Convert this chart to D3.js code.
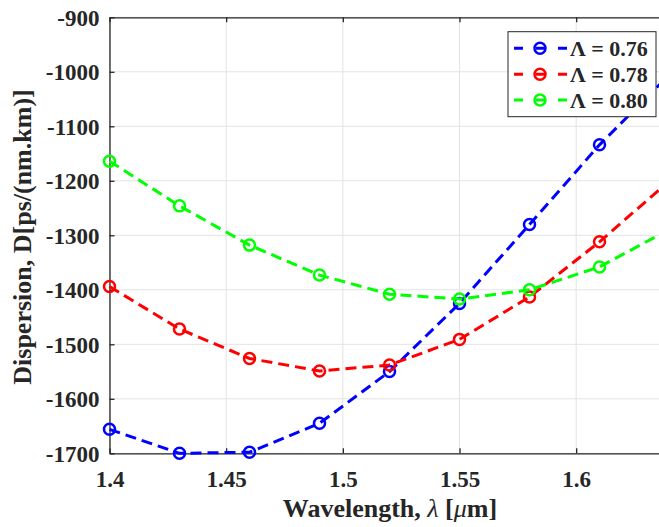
<!DOCTYPE html>
<html>
<head>
<meta charset="utf-8">
<script src="https://cdn.jsdelivr.net/npm/d3@7"></script>
<style>
  body { margin: 0; background: #fff; }
  svg { display: block; }
  text { font-family: "Liberation Serif", "Times New Roman", serif; font-weight: bold; fill: #262626; }
</style>
</head>
<body>
<div class="chart"></div>
<script>
// wavelength samples (um)
const wavelengths = [1.40, 1.43, 1.46, 1.49, 1.52, 1.55, 1.58, 1.61, 1.64];
// dispersion for each pitch
const d076 = [-1656, -1700, -1698, -1645, -1550, -1425, -1280, -1134, -1005];
const d078 = [-1394, -1472, -1526, -1549, -1538, -1491, -1413, -1312, -1200];
const d080 = [-1164, -1246, -1318, -1373, -1408, -1417, -1400, -1358, -1289];
const seriesNames = ['Λ = 0.76', 'Λ = 0.78', 'Λ = 0.80'];
const seriesColors = ['#0000ff', '#ff0000', '#00ff00'];
const xTicks = [1.4, 1.45, 1.5, 1.55, 1.6];
const yTicks = [-1700, -1600, -1500, -1400, -1300, -1200, -1100, -1000, -900];

const W = 659, H = 527;
const margin = {top: 17.3, left: 109.5, bottom: 527 - 453.3};
const serif = '"Liberation Serif", "Times New Roman", serif';

const series = [d076, d078, d080].map((vals, i) => ({
    name: seriesNames[i],
    color: seriesColors[i],
    pts: wavelengths.map((w, j) => ({x: w, y: vals[j]}))
}));

const svg = d3.select('.chart').append('svg')
    .attr('width', W).attr('height', H);

const xScale = d3.scaleLinear().domain([1.4, 1.64]).range([margin.left, margin.left + 0.24 * 2333.4]);
const yScale = d3.scaleLinear().domain([-1700, -900]).range([453.3, margin.top]);
const plotRight = xScale(1.64), plotBottom = yScale(-1700);

// grid
const grid = svg.append('g');
grid.selectAll('.gx').data(xTicks).enter().append('line')
    .attr('x1', d => xScale(d)).attr('x2', d => xScale(d))
    .attr('y1', margin.top).attr('y2', plotBottom)
    .attr('stroke', '#e3e3e3').attr('stroke-width', 1);
grid.selectAll('.gy').data(yTicks).enter().append('line')
    .attr('x1', margin.left).attr('x2', plotRight)
    .attr('y1', d => yScale(d)).attr('y2', d => yScale(d))
    .attr('stroke', '#e3e3e3').attr('stroke-width', 1);

// axes
const xAxis = d3.axisBottom(xScale).tickValues(xTicks).tickSizeInner(-5).tickSizeOuter(0)
    .tickPadding(17).tickFormat(d3.format('~g'));
const yAxis = d3.axisLeft(yScale).tickValues(yTicks).tickSizeInner(-5).tickSizeOuter(0)
    .tickPadding(10).tickFormat(d => String(d));
const xTop = d3.axisTop(xScale).tickValues(xTicks).tickSizeInner(-5).tickSizeOuter(0).tickFormat('');

const gx = svg.append('g').attr('transform', `translate(0,${plotBottom})`).call(xAxis);
const gy = svg.append('g').attr('transform', `translate(${margin.left},0)`).call(yAxis);
const gt = svg.append('g').attr('transform', `translate(0,${margin.top})`).call(xTop);
[gx, gy, gt].forEach(g => {
    g.attr('font-family', serif).attr('font-size', 23);
    g.selectAll('path, line').attr('stroke', '#262626').attr('stroke-width', 1.3);
    g.selectAll('text').attr('fill', '#262626')
        .style('font', `bold 23px ${serif}`);
});
gy.selectAll('text').attr('dy', '0.35em');

// lines
const line = d3.line().x(d => xScale(d.x)).y(d => yScale(d.y));
const plot = svg.append('g');
series.forEach(s => {
    plot.append('path').datum(s.pts)
        .attr('d', line).attr('fill', 'none')
        .attr('stroke', s.color).attr('stroke-width', 3)
        .attr('stroke-dasharray', '11,6');
    plot.selectAll(null).data(s.pts).enter().append('circle')
        .attr('cx', d => xScale(d.x)).attr('cy', d => yScale(d.y))
        .attr('r', 5.5).attr('fill', 'none')
        .attr('stroke', s.color).attr('stroke-width', 2.5);
});

// axis titles
const xt = svg.append('text').attr('x', 390).attr('y', 517)
    .attr('text-anchor', 'middle').style('font', `bold 26px ${serif}`);
xt.append('tspan').text('Wavelength, ');
xt.append('tspan').text('λ').style('font-style', 'italic').style('font-weight', 'normal');
xt.append('tspan').text(' [');
xt.append('tspan').text('μ').style('font-style', 'italic').style('font-weight', 'normal');
xt.append('tspan').text('m]');

svg.append('text')
    .attr('transform', 'translate(31,237) rotate(-90)')
    .attr('text-anchor', 'middle').style('font', `bold 26px ${serif}`)
    .text('Dispersion, D[ps/(nm.km)]');

// legend
const legend = svg.append('g');
legend.append('rect')
    .attr('x', 508).attr('y', 31.7).attr('width', 148).attr('height', 85)
    .attr('fill', '#fff').attr('stroke', '#262626').attr('stroke-width', 1);
const rows = legend.selectAll('.row').data(series).enter().append('g')
    .attr('transform', (d, i) => `translate(0,${48.3 + i * 25.9})`);
rows.append('line').attr('x1', 514).attr('x2', 567).attr('y1', 0).attr('y2', 0)
    .attr('stroke', d => d.color).attr('stroke-width', 3).attr('stroke-dasharray', '9,13');
rows.append('circle').attr('cx', 540).attr('cy', 0).attr('r', 5.5)
    .attr('fill', 'none').attr('stroke', d => d.color).attr('stroke-width', 2.5);
rows.append('text').attr('x', 570).attr('y', 0).attr('dy', '0.35em')
    .style('font', `bold 22px ${serif}`).attr('fill', '#000').text(d => d.name);
</script>
</body>
</html>
